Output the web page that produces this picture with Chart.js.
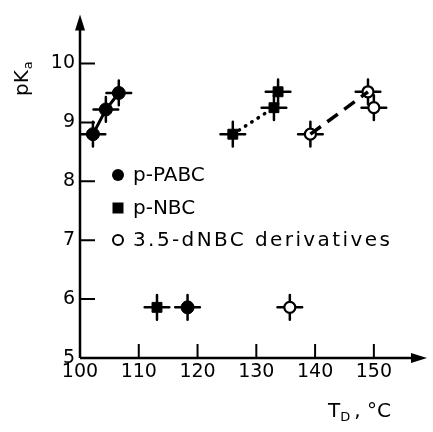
<!DOCTYPE html>
<html>
<head>
<meta charset="utf-8">
<script src="https://cdn.jsdelivr.net/npm/chart.js@4.4.1/dist/chart.umd.min.js"></script>
<style>
  html, body { margin: 0; padding: 0; background: #fff; }
  #wrap { width: 433px; height: 432px; }
</style>
</head>
<body>
<div id="wrap"><canvas id="c" width="433" height="432"></canvas></div>
<script>
// ---- data ----
const seriesNames = ["p-PABC", "p-NBC", "3.5-dNBC derivatives"];
const pabcT   = [102.2, 104.4, 106.6, 118.3];
const pabcPKa = [8.8, 9.22, 9.5, 5.86];
const nbcT    = [126.0, 133.0, 133.7, 113.1];
const nbcPKa  = [8.8, 9.25, 9.52, 5.86];
const dnbcT   = [139.2, 149.0, 150.0, 135.7];
const dnbcPKa = [8.8, 9.52, 9.25, 5.86];
const errT = 2.1;      // horizontal error bar half-width, °C
const errPKa = 0.21;   // vertical error bar half-height
const xTicks = [100, 110, 120, 130, 140, 150];
const yTicks = [5, 6, 7, 8, 9, 10];
const pabcLineIdx = [0, 1, 2];
const nbcLineIdx = [0, 1];
const dnbcLineIdx = [0, 1];

const pts = (xs, ys) => xs.map((x, i) => ({ x: x, y: ys[i] }));
const sub = (xs, ys, idx) => idx.map(i => ({ x: xs[i], y: ys[i] }));

const FONT = "'DejaVu Sans', sans-serif";

const errorBars = {
  id: 'errorBars',
  beforeDatasetsDraw(chart) {
    const { ctx, scales: { x, y } } = chart;
    ctx.save();
    ctx.strokeStyle = '#000';
    ctx.lineWidth = 2.5;
    ctx.lineCap = 'round';
    chart.data.datasets.forEach(ds => {
      if (!ds.errorBars) return;
      ds.data.forEach(p => {
        const px = x.getPixelForValue(p.x), py = y.getPixelForValue(p.y);
        ctx.beginPath();
        ctx.moveTo(x.getPixelForValue(p.x - errT), py);
        ctx.lineTo(x.getPixelForValue(p.x + errT), py);
        ctx.moveTo(px, y.getPixelForValue(p.y - errPKa));
        ctx.lineTo(px, y.getPixelForValue(p.y + errPKa));
        ctx.stroke();
      });
    });
    ctx.restore();
  }
};

const axesPlugin = {
  id: 'axesPlugin',
  afterDraw(chart) {
    const { ctx, chartArea: a, scales: { x, y } } = chart;
    ctx.save();
    ctx.strokeStyle = '#000';
    ctx.fillStyle = '#000';
    ctx.lineWidth = 2.5;
    const ox = x.getPixelForValue(xTicks[0]);
    const oy = y.getPixelForValue(yTicks[0]);
    ctx.beginPath();
    ctx.moveTo(ox, oy); ctx.lineTo(ox, a.top + 10);
    ctx.moveTo(ox, oy); ctx.lineTo(a.right - 10, oy);
    ctx.stroke();
    // arrows
    ctx.beginPath();
    ctx.moveTo(ox, a.top - 2); ctx.lineTo(ox - 5, a.top + 14); ctx.lineTo(ox + 5, a.top + 14); ctx.closePath();
    ctx.fill();
    ctx.beginPath();
    ctx.moveTo(a.right + 2, oy); ctx.lineTo(a.right - 14, oy - 5); ctx.lineTo(a.right - 14, oy + 5); ctx.closePath();
    ctx.fill();
    // inward ticks
    ctx.lineWidth = 2;
    ctx.beginPath();
    yTicks.slice(1).forEach(v => {
      const py = y.getPixelForValue(v);
      ctx.moveTo(ox, py); ctx.lineTo(ox + 15, py);
    });
    xTicks.slice(1).forEach(v => {
      const px = x.getPixelForValue(v);
      ctx.moveTo(px, oy); ctx.lineTo(px, oy - 14);
    });
    ctx.stroke();

    // axis titles
    ctx.textBaseline = 'alphabetic';
    ctx.textAlign = 'left';
    // pK_a rotated
    ctx.save();
    ctx.translate(28, 96);
    ctx.rotate(-Math.PI / 2);
    ctx.font = '20px ' + FONT;
    ctx.fillText('pK', 0, 0);
    const w = ctx.measureText('pK').width;
    ctx.font = '13px ' + FONT;
    ctx.fillText('a', w + 1, 4);
    ctx.restore();
    // T_D ,°C
    ctx.font = '20px ' + FONT;
    let tx = 328;
    ctx.fillText('T', tx, 417);
    tx += ctx.measureText('T').width;
    ctx.font = '13px ' + FONT;
    ctx.fillText('D', tx, 421);
    tx += ctx.measureText('D').width + 4;
    ctx.font = '20px ' + FONT;
    ctx.fillText(', °C', tx, 417);

    // legend
    const legY = [175, 208, 240];
    const lx = 118;
    ctx.font = '20px ' + FONT;
    ctx.textBaseline = 'middle';
    seriesNames.forEach((name, i) => {
      const ly = legY[i];
      ctx.lineWidth = 2;
      if (i === 0) {
        ctx.beginPath(); ctx.arc(lx, ly, 6, 0, Math.PI * 2); ctx.fill();
      } else if (i === 1) {
        ctx.fillRect(lx - 5.5, ly - 5.5, 11, 11);
      } else {
        ctx.fillStyle = '#fff';
        ctx.beginPath(); ctx.arc(lx, ly, 5, 0, Math.PI * 2); ctx.fill(); ctx.stroke();
        ctx.fillStyle = '#000';
      }
      ctx.letterSpacing = (i === 2) ? '2.4px' : '0px';
      ctx.fillText(name, 133, ly + 1);
    });
    ctx.restore();
  }
};

new Chart(document.getElementById('c'), {
  type: 'scatter',
  data: {
    datasets: [
      { label: 'pabcLine', data: sub(pabcT, pabcPKa, pabcLineIdx), showLine: true, borderColor: '#000', borderWidth: 3, pointRadius: 0 },
      { label: 'nbcLine', data: sub(nbcT, nbcPKa, nbcLineIdx), showLine: true, borderColor: '#000', borderWidth: 3.5, borderDash: [0.5, 7], borderCapStyle: 'round', pointRadius: 0 },
      { label: 'dnbcLine', data: sub(dnbcT, dnbcPKa, dnbcLineIdx), showLine: true, borderColor: '#000', borderWidth: 3.5, borderDash: [13, 8], pointRadius: 0 },
      { label: seriesNames[0], data: pts(pabcT, pabcPKa), errorBars: true, pointStyle: 'circle', pointRadius: 6.5, backgroundColor: '#000', borderColor: '#000', borderWidth: 1 },
      { label: seriesNames[1], data: pts(nbcT, nbcPKa), errorBars: true, pointStyle: 'rect', pointRadius: 7, backgroundColor: '#000', borderColor: '#000', borderWidth: 1 },
      { label: seriesNames[2], data: pts(dnbcT, dnbcPKa), errorBars: true, pointStyle: 'circle', pointRadius: 5.5, backgroundColor: '#fff', borderColor: '#000', borderWidth: 2.2 }
    ]
  },
  options: {
    responsive: false,
    animation: false,
    devicePixelRatio: 1,
    layout: { padding: { top: 10, right: 3, left: 0, bottom: 0 } },
    plugins: { legend: { display: false }, tooltip: { enabled: false } },
    scales: {
      x: {
        type: 'linear', min: 100, max: 158.7,
        grid: { display: false, drawTicks: false },
        border: { display: false },
        afterBuildTicks: s => { s.ticks = xTicks.map(v => ({ value: v })); },
        afterFit: s => { s.height = 74; },
        ticks: { color: '#000', font: { family: FONT, size: 19 }, padding: 3, maxRotation: 0 }
      },
      y: {
        type: 'linear', min: 5, max: 10.8,
        grid: { display: false, drawTicks: false },
        border: { display: false },
        afterBuildTicks: s => { s.ticks = yTicks.map(v => ({ value: v })); },
        afterFit: s => { s.width = 80; },
        ticks: { color: '#000', font: { family: FONT, size: 19 }, padding: 5 }
      }
    }
  },
  plugins: [errorBars, axesPlugin]
});
</script>
</body>
</html>
